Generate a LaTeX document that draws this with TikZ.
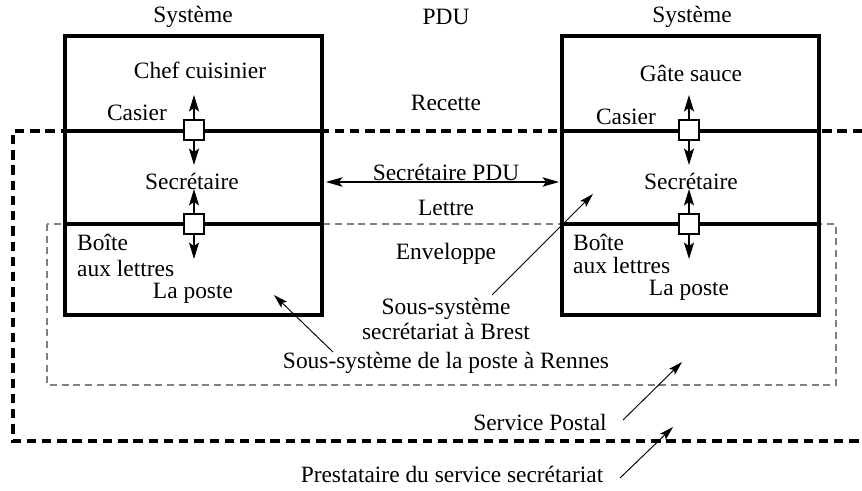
\documentclass[tikz,border=0pt]{standalone}
\usepackage{fontspec}
\setmainfont{Liberation Serif}
\usetikzlibrary{arrows.meta}
\tikzset{every node/.style={font=\fontsize{20}{22}\selectfont, inner sep=0pt},
  cadre/.style={line width=2.6pt},
  tiret/.style={line width=2.6pt, dash pattern=on 8pt off 5pt},
  tiretgris/.style={line width=1.2pt, draw=black!50, dash pattern=on 6pt off 4pt},
  casier/.style={draw, fill=white, line width=2pt, minimum size=0.6cm},
  fleche/.style={line width=1.8pt, -{Stealth[length=14pt,width=8.5pt,inset=3pt]}},
  flechepdu/.style={line width=1.3pt, {Stealth[length=14pt,width=8pt,inset=3pt]}-{Stealth[length=14pt,width=8pt,inset=3pt]}},
  flechefine/.style={line width=0.8pt, -{Stealth[length=12pt,width=7pt,inset=2.5pt]}}}

\begin{document}
\begin{tikzpicture}[x=0.03cm,y=-0.03cm]
\useasboundingbox (0,0) rectangle (862,490);
\draw[tiret] (862,131) -- (13,131) -- (13,441) -- (862,441);
\draw[tiretgris] (47,224) rectangle (836,385);
\draw[cadre] (65,36) rectangle (322,315);
\draw[cadre] (65,131) -- (322,131);
\draw[cadre] (65,224) -- (322,224);
\draw[cadre] (562,36) rectangle (819,315);
\draw[cadre] (562,131) -- (819,131);
\draw[cadre] (562,224) -- (819,224);
\node (sysG) at (193,17) {Système};
\node (pdu) at (446,17) {PDU};
\node (sysD) at (692,17) {Système};
\node (chef) at (200,70) {Chef cuisinier};
\node (gate) at (691,73) {Gâte sauce};
\node (recette) at (446,103) {Recette};
\node (casierG) at (137,113) {Casier};
\node (casierD) at (626,117) {Casier};
\node (secG) at (192,181) {Secrétaire};
\node (secD) at (691,181) {Secrétaire};
\node (secpdu) at (446,172) {Secrétaire PDU};
\node (lettre) at (446,208) {Lettre};
\node (enveloppe) at (446,254) {Enveloppe};
\node[anchor=west] (boiteG) at (77,242) {Boîte};
\node[anchor=west] (auxG) at (77,268) {aux lettres};
\node (posteG) at (193,293) {La poste};
\node[anchor=west] (boiteD) at (573,242) {Boîte};
\node[anchor=west] (auxD) at (573,265) {aux lettres};
\node (posteD) at (689,290) {La poste};
\node[align=center] (brest) at (446,319) {Sous-système\\secrétariat à Brest};
\node (rennes) at (446,363) {Sous-système de la poste à Rennes};
\node (postal) at (540,422) {Service Postal};
\node (prest) at (452,474) {Prestataire du service secrétariat};
\coordinate (hautG1) at (194,95);
\coordinate (basG1) at (194,165);
\coordinate (hautG2) at (194,189);
\coordinate (basG2) at (194,259);
\coordinate (hautD1) at (689,95);
\coordinate (basD1) at (689,165);
\coordinate (hautD2) at (689,189);
\coordinate (basD2) at (689,259);
\node[casier] (cG1) at (194,130) {};
\node[casier] (cG2) at (194,224) {};
\node[casier] (cD1) at (689,130) {};
\node[casier] (cD2) at (689,224) {};
\draw[fleche] (cG1) -- (hautG1);
\draw[fleche] (cG1) -- (basG1);
\draw[fleche] (cG2) -- (hautG2);
\draw[fleche] (cG2) -- (basG2);
\draw[fleche] (cD1) -- (hautD1);
\draw[fleche] (cD1) -- (basD1);
\draw[fleche] (cD2) -- (hautD2);
\draw[fleche] (cD2) -- (basD2);
\coordinate (pduG) at (326,182);
\coordinate (pduD) at (559,182);
\draw[flechepdu] (pduG) -- (pduD);
\coordinate (brestQ) at (492,295);
\coordinate (brestT) at (593,194);
\draw[flechefine] (brestQ) -- (brestT);
\coordinate (rennesQ) at (333,352);
\coordinate (rennesT) at (274,295);
\draw[flechefine] (rennesQ) -- (rennesT);
\coordinate (postalQ) at (623,420);
\coordinate (postalT) at (682,362);
\draw[flechefine] (postalQ) -- (postalT);
\coordinate (prestQ) at (620,478);
\coordinate (prestT) at (673,427);
\draw[flechefine] (prestQ) -- (prestT);
\end{tikzpicture}
\end{document}
